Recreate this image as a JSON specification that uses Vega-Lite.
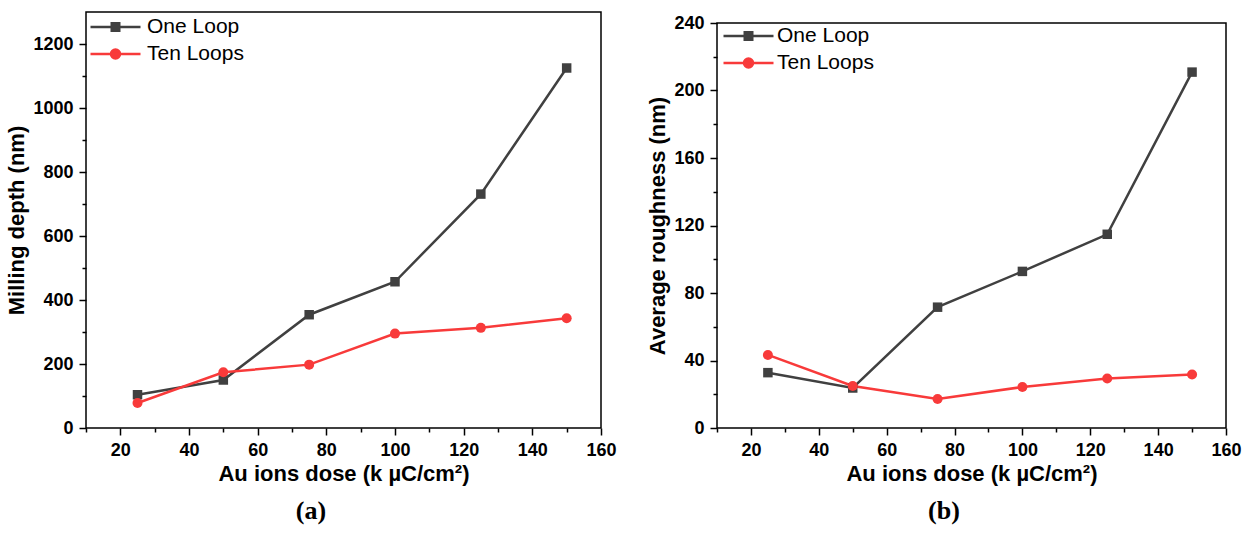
{
  "$schema": "https://vega.github.io/schema/vega-lite/v6.json",
  "background": "white",
  "padding": {"left": 5, "top": 11, "right": 5, "bottom": 5},
  "spacing": 29,
  "config": {
    "view": {"stroke": "black", "strokeWidth": 1.5},
    "axis": {
      "labelFont": "Liberation Sans", "labelFontWeight": "bold", "labelFontSize": 18, "labelColor": "black",
      "titleFont": "Liberation Sans", "titleFontWeight": "bold", "titleFontSize": 22, "titleColor": "black",
      "domain": false, "grid": false, "tickColor": "black", "tickWidth": 1.5,
      "labelFlush": false, "labelOverlap": false, "format": "d"
    },
    "legend": {
      "orient": "top-left", "title": null,
      "labelFont": "Liberation Sans", "labelFontSize": 21, "labelColor": "black",
      "symbolSize": 625, "symbolStrokeWidth": 2.5, "labelOffset": 32,
      "offset": 1, "padding": 0, "rowPadding": 3
    },
    "title": {"font": "Liberation Serif", "fontSize": 26, "fontWeight": "bold", "color": "black", "orient": "bottom", "anchor": "middle", "frame": "bounds", "offset": 14}
  },
  "resolve": {"scale": {"color": "independent"}, "legend": {"color": "independent"}},
  "datasets": {
    "depth": [
      {"dose": 25, "value": 104, "series": "One Loop"},
      {"dose": 50, "value": 150, "series": "One Loop"},
      {"dose": 75, "value": 354, "series": "One Loop"},
      {"dose": 100, "value": 457, "series": "One Loop"},
      {"dose": 125, "value": 731, "series": "One Loop"},
      {"dose": 150, "value": 1125, "series": "One Loop"},
      {"dose": 25, "value": 78, "series": "Ten Loops"},
      {"dose": 50, "value": 174, "series": "Ten Loops"},
      {"dose": 75, "value": 198, "series": "Ten Loops"},
      {"dose": 100, "value": 295, "series": "Ten Loops"},
      {"dose": 125, "value": 313, "series": "Ten Loops"},
      {"dose": 150, "value": 343, "series": "Ten Loops"}
    ],
    "rough": [
      {"dose": 25, "value": 32.8, "series": "One Loop"},
      {"dose": 50, "value": 23.7, "series": "One Loop"},
      {"dose": 75, "value": 71.6, "series": "One Loop"},
      {"dose": 100, "value": 92.8, "series": "One Loop"},
      {"dose": 125, "value": 114.8, "series": "One Loop"},
      {"dose": 150, "value": 210.9, "series": "One Loop"},
      {"dose": 25, "value": 43.3, "series": "Ten Loops"},
      {"dose": 50, "value": 24.9, "series": "Ten Loops"},
      {"dose": 75, "value": 17.2, "series": "Ten Loops"},
      {"dose": 100, "value": 24.3, "series": "Ten Loops"},
      {"dose": 125, "value": 29.3, "series": "Ten Loops"},
      {"dose": 150, "value": 31.7, "series": "Ten Loops"}
    ],
    "none": []
  },
  "hconcat": [
    {
      "width": 515, "height": 416,
      "title": {"text": "(a)"},
      "data": {"name": "depth"},
      "encoding": {
        "x": {"field": "dose", "type": "quantitative",
          "scale": {"domain": [10, 160], "nice": false, "zero": false},
          "axis": {"title": "Au ions dose (k µC/cm²)",
            "values": [10, 20, 30, 40, 50, 60, 70, 80, 90, 100, 110, 120, 130, 140, 150, 160],
            "labelExpr": "datum.value % 20 === 0 ? datum.label : ''",
            "tickSize": {"condition": {"test": "datum.value % 20 === 0", "value": 7}, "value": 4},
            "labelPadding": 6, "titlePadding": 4}},
        "y": {"field": "value", "type": "quantitative",
          "scale": {"domain": [0, 1300], "nice": false, "zero": false},
          "axis": {"title": "Milling depth (nm)",
            "values": [0, 100, 200, 300, 400, 500, 600, 700, 800, 900, 1000, 1100, 1200],
            "labelExpr": "datum.value % 200 === 0 ? datum.label : ''",
            "tickSize": {"condition": {"test": "datum.value % 200 === 0", "value": 7}, "value": 4},
            "labelPadding": 6, "titlePadding": 4}},
        "color": {"field": "series", "type": "nominal",
          "scale": {"domain": ["One Loop", "Ten Loops"], "range": ["#404040", "#f83a3a"]},
          "legend": {
            "encode": {
              "symbols": {
                "update": {
                  "shape": {"signal": "datum.value === 'One Loop' ? 'M-0.84,0H3.16M0.86,-0.3H1.46V0.3H0.86Z' : 'M-0.84,0H3.16M0.8,0A0.36,0.36 0 1,1 1.52,0A0.36,0.36 0 1,1 0.8,0Z'"},
                  "fill": {"signal": "datum.value === 'One Loop' ? '#404040' : '#f83a3a'"},
                  "stroke": {"signal": "datum.value === 'One Loop' ? '#404040' : '#f83a3a'"},
                  "strokeWidth": {"value": 2.5},
                  "opacity": {"value": 1}
                }
              }
            }
          }}
      },
      "layer": [
        {"mark": {"type": "line", "strokeWidth": 2.5}},
        {"transform": [{"filter": "datum.series === 'One Loop'"}],
          "mark": {"type": "point", "shape": "square", "filled": true, "opacity": 1, "size": 90}},
        {"transform": [{"filter": "datum.series === 'Ten Loops'"}],
          "mark": {"type": "point", "shape": "circle", "filled": true, "opacity": 1, "size": 100}}
      ]
    },
    {
      "spacing": 0,
      "vconcat": [
        {
          "width": 1, "height": 1,
          "view": {"stroke": null},
          "data": {"name": "none"},
          "mark": {"type": "rule"},
          "encoding": {}
        },
        {
          "width": 509, "height": 405,
          "title": {"text": "(b)"},
          "data": {"name": "rough"},
          "encoding": {
            "x": {"field": "dose", "type": "quantitative",
              "scale": {"domain": [10, 160], "nice": false, "zero": false},
              "axis": {"title": "Au ions dose (k µC/cm²)",
                "values": [10, 20, 30, 40, 50, 60, 70, 80, 90, 100, 110, 120, 130, 140, 150, 160],
                "labelExpr": "datum.value % 20 === 0 ? datum.label : ''",
                "tickSize": {"condition": {"test": "datum.value % 20 === 0", "value": 7}, "value": 4},
                "labelPadding": 6, "titlePadding": 4}},
            "y": {"field": "value", "type": "quantitative",
              "scale": {"domain": [0, 240], "nice": false, "zero": false},
              "axis": {"title": "Average roughness (nm)",
                "values": [0, 20, 40, 60, 80, 100, 120, 140, 160, 180, 200, 220, 240],
                "labelExpr": "datum.value % 40 === 0 ? datum.label : ''",
                "tickSize": {"condition": {"test": "datum.value % 40 === 0", "value": 7}, "value": 4},
                "labelPadding": 6, "titlePadding": 4}},
            "color": {"field": "series", "type": "nominal",
              "scale": {"domain": ["One Loop", "Ten Loops"], "range": ["#404040", "#f83a3a"]},
              "legend": {
                "offset": 10, "labelOffset": 22,
                "encode": {
                  "symbols": {
                    "update": {
                      "shape": {"signal": "datum.value === 'One Loop' ? 'M-1.4,0H2.6M0.3,-0.3H0.9V0.3H0.3Z' : 'M-1.4,0H2.6M0.24,0A0.36,0.36 0 1,1 0.96,0A0.36,0.36 0 1,1 0.24,0Z'"},
                      "fill": {"signal": "datum.value === 'One Loop' ? '#404040' : '#f83a3a'"},
                      "stroke": {"signal": "datum.value === 'One Loop' ? '#404040' : '#f83a3a'"},
                      "strokeWidth": {"value": 2.5},
                      "opacity": {"value": 1}
                    }
                  }
                }
              }}
          },
          "layer": [
            {"mark": {"type": "line", "strokeWidth": 2.5}},
            {"transform": [{"filter": "datum.series === 'One Loop'"}],
              "mark": {"type": "point", "shape": "square", "filled": true, "opacity": 1, "size": 90}},
            {"transform": [{"filter": "datum.series === 'Ten Loops'"}],
              "mark": {"type": "point", "shape": "circle", "filled": true, "opacity": 1, "size": 100}}
          ]
        }
      ]
    }
  ]
}
